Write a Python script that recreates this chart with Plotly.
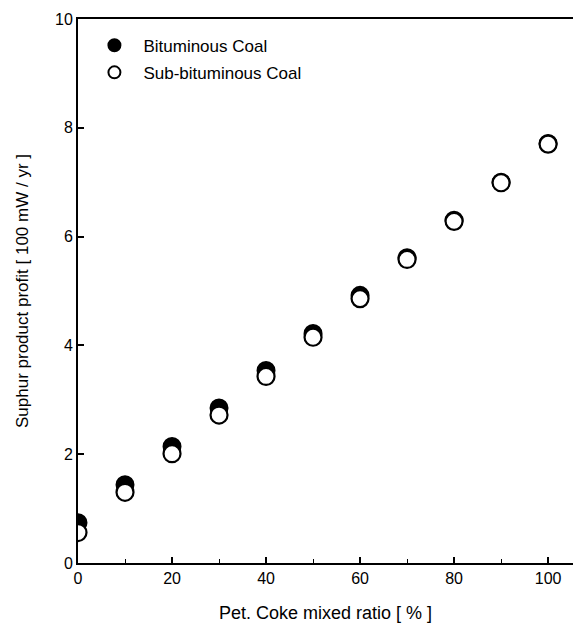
import plotly.graph_objects as go

ratio = [0, 10, 20, 30, 40, 50, 60, 70, 80, 90, 100]
bituminous = [0.74, 1.44, 2.14, 2.85, 3.54, 4.22, 4.92, 5.61, 6.30, 7.00, 7.71]
sub_bituminous = [0.56, 1.30, 2.01, 2.72, 3.43, 4.15, 4.86, 5.58, 6.28, 6.99, 7.70]
x_ticks = [0, 20, 40, 60, 80, 100]
y_ticks = [0, 2, 4, 6, 8, 10]

font_family = "Liberation Sans, Arial, sans-serif"

fig = go.Figure()
fig.add_trace(go.Scatter(
    x=ratio, y=bituminous, mode="markers", name="Bituminous Coal", legendgroup="a",
    marker=dict(symbol="circle", size=17, color="black",
                line=dict(color="black", width=2)),
))
fig.add_trace(go.Scatter(
    x=ratio, y=sub_bituminous, mode="markers", name="Sub-bituminous Coal", legendgroup="b",
    marker=dict(symbol="circle", size=17, color="white",
                line=dict(color="black", width=2.2)),
))

axis_common = dict(
    showgrid=False, zeroline=False, showline=True, linecolor="black",
    linewidth=2, mirror=True, ticks="inside", ticklen=6, tickwidth=1.5,
    tickcolor="black", tickfont=dict(size=16, color="black", family=font_family),
    automargin=False,
)

fig.update_xaxes(
    range=[0, 105.3], tickvals=x_ticks,
    minor=dict(ticks="inside", ticklen=4, tickwidth=1.2, tickcolor="black", dtick=10, tick0=0),
    title=dict(text="Pet. Coke mixed ratio [ % ]", font=dict(size=18, color="black", family=font_family),
               standoff=20),
    **axis_common,
)
fig.update_yaxes(
    range=[0, 10], tickvals=y_ticks,
    title=dict(text="Suphur product profit [ 100 mW / yr ]", font=dict(size=17, color="black", family=font_family),
               standoff=22),
    **axis_common,
)

fig.update_layout(
    width=573, height=629,
    margin=dict(l=70, r=8, t=11, b=74),
    paper_bgcolor="white", plot_bgcolor="white",
    showlegend=True,
    legend=dict(x=0.015, y=0.984, xanchor="left", yanchor="top",
                bgcolor="rgba(0,0,0,0)", font=dict(size=17, color="black", family=font_family),
                itemsizing="constant", itemwidth=48, traceorder="grouped", tracegroupgap=2),
    font=dict(family=font_family, color="black"),
)

fig.write_html("out.html")
